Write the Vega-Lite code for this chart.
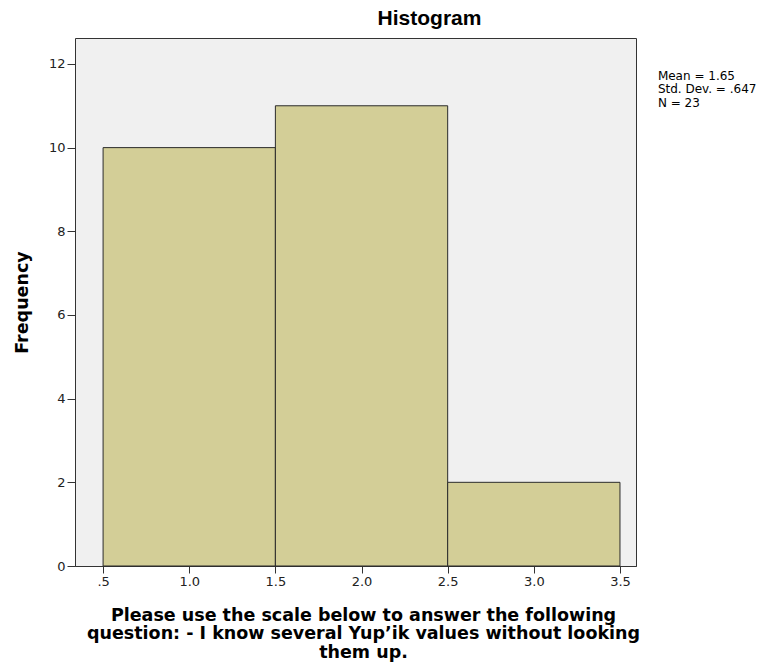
{
  "$schema": "https://vega.github.io/schema/vega-lite/v6.json",
  "width": 561,
  "height": 528,
  "autosize": {"type": "none"},
  "padding": {"left": 75, "top": 38, "right": 133, "bottom": 106},
  "background": "white",
  "config": {
    "view": {"fill": "#F0F0F0", "stroke": "#333333", "strokeWidth": 1},
    "font": "DejaVu Sans"
  },
  "title": {
    "text": "Histogram",
    "font": "Liberation Sans",
    "fontSize": 21,
    "fontWeight": "bold",
    "color": "#000000",
    "anchor": "middle",
    "dx": 74,
    "offset": 9
  },
  "layer": [
    {
      "data": {
        "values": [
          {"bin_start": 0.5, "bin_end": 1.5, "count": 10},
          {"bin_start": 1.5, "bin_end": 2.5, "count": 11},
          {"bin_start": 2.5, "bin_end": 3.5, "count": 2}
        ]
      },
      "mark": {"type": "rect", "fill": "#D3CE97", "stroke": "#2b2b2b", "strokeWidth": 1},
      "encoding": {
        "x": {
          "field": "bin_start",
          "type": "quantitative",
          "scale": {"domain": [0.337, 3.593], "nice": false, "zero": false},
          "axis": {
            "values": [0.5, 1.0, 1.5, 2.0, 2.5, 3.0, 3.5],
            "labelExpr": "datum.value == 0.5 ? '.5' : format(datum.value, '.1f')",
            "grid": false,
            "domain": true,
            "domainColor": "#333333",
            "tickColor": "#333333",
            "tickSize": 7,
            "labelFont": "DejaVu Sans",
            "labelFontSize": 13,
            "labelColor": "#222222",
            "labelPadding": 2,
            "title": ["Please use the scale below to answer the following", "question: - I know several Yup’ik values without looking", "them up."],
            "titleFont": "DejaVu Sans",
            "titleFontSize": 17.5,
            "titleFontWeight": "bold",
            "titleColor": "#000000",
            "titleLineHeight": 18.5,
            "titlePadding": 18,
            "titleX": 288,
            "titleAnchor": "middle"
          }
        },
        "x2": {"field": "bin_end"},
        "y": {
          "field": "count",
          "type": "quantitative",
          "scale": {"domain": [0, 12.62], "nice": false},
          "axis": {
            "values": [0, 2, 4, 6, 8, 10, 12],
            "grid": false,
            "domain": false,
            "tickColor": "#333333",
            "tickSize": 8,
            "labelFont": "DejaVu Sans",
            "labelFontSize": 13,
            "labelColor": "#222222",
            "labelPadding": 2,
            "title": "Frequency",
            "titleFont": "DejaVu Sans",
            "titleFontSize": 17.5,
            "titleFontWeight": "bold",
            "titleColor": "#000000",
            "titlePadding": 17
          }
        },
        "y2": {"datum": 0}
      }
    },
    {
      "data": {"values": [{"stats": "Mean = 1.65\nStd. Dev. = .647\nN = 23"}]},
      "mark": {
        "type": "text",
        "align": "left",
        "baseline": "middle",
        "font": "DejaVu Sans",
        "fontSize": 12,
        "lineHeight": 13.5,
        "lineBreak": "\n",
        "color": "#000000",
        "clip": false
      },
      "encoding": {
        "x": {"datum": 3.72, "type": "quantitative"},
        "y": {"datum": 11.72, "type": "quantitative"},
        "text": {"field": "stats"}
      }
    }
  ]
}
